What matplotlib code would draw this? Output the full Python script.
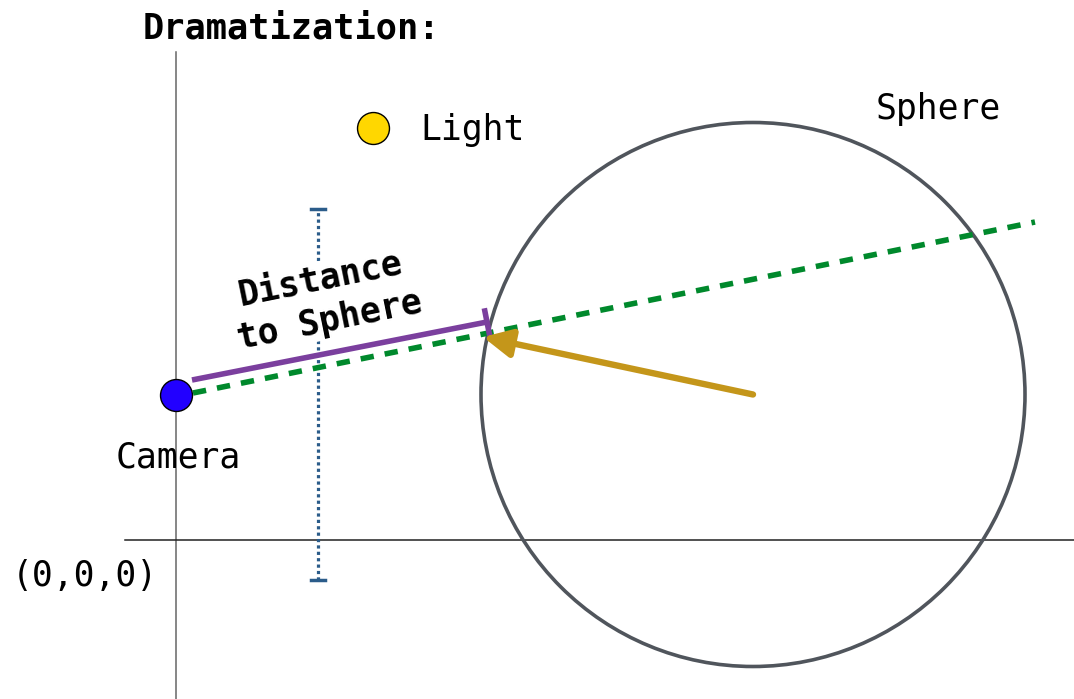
import numpy as np
import matplotlib.pyplot as plt
from matplotlib.patches import Circle, FancyArrowPatch

# world coordinates (1 unit ~ 100 px), origin at (0,0,0)
camera = (0.0, 1.45)
light = (1.97, 4.12)
sphere_center = (5.77, 1.455)
sphere_radius = 2.72
ray_x = [0.17, 8.59]
ray_y = [1.47, 3.18]
dist_x = [0.16, 3.11]
dist_y = [1.60, 2.18]
hit_point = (3.07, 2.03)
screen_x = 1.42
screen_y = [-0.40, 3.31]
x_axis = ([-0.51, 8.98], [0.0, 0.0])
y_axis = ([0.0, 0.0], [-1.59, 4.88])

fig = plt.figure(figsize=(10.74, 6.99), dpi=100)
ax = fig.add_axes([0, 0, 1, 1])
ax.set_xlim(-1.76, 8.98)
ax.set_ylim(-1.59, 5.40)
ax.set_aspect('equal')
ax.axis('off')

mono = 'DejaVu Sans Mono'

# axes
ax.plot(*y_axis, color='#666666', lw=1.1, zorder=1)
ax.plot(*x_axis, color='#222222', lw=1.1, zorder=1)

# screen (dotted with caps)
ax.plot([screen_x, screen_x], screen_y, color='#2b5c8a', lw=2.3,
        linestyle=(0, (1, 1)), zorder=2)
for yy in screen_y:
    ax.plot([screen_x - 0.07, screen_x + 0.07], [yy, yy], color='#2b5c8a',
            lw=2.5, zorder=2)

# sphere
ax.add_patch(Circle(sphere_center, sphere_radius, fill=False,
                    edgecolor='#50555c', lw=2.6, zorder=3))

# ray
ax.plot(ray_x, ray_y, color='#00892c', lw=4.0, linestyle=(0, (2.4, 2.0)),
        zorder=4)

# distance line with end tick
ax.plot(dist_x, dist_y, color='#7b3f9e', lw=4.0, solid_capstyle='butt',
        zorder=5)
d = np.array([dist_x[1] - dist_x[0], dist_y[1] - dist_y[0]])
n = np.array([-d[1], d[0]]) / np.hypot(*d) * 0.14
ax.plot([dist_x[1] - n[0], dist_x[1] + n[0]],
        [dist_y[1] - n[1], dist_y[1] + n[1]], color='#7b3f9e', lw=4.0,
        solid_capstyle='butt', zorder=5)

# normal arrow
ax.add_patch(FancyArrowPatch(sphere_center, hit_point,
                             arrowstyle='-|>,head_length=0.85,head_width=0.42',
                             mutation_scale=20, color='#c4961a', lw=4.6,
                             shrinkA=0, shrinkB=0, zorder=6))

# camera and light
ax.plot(*camera, 'o', ms=23, markerfacecolor='#2200ff',
        markeredgecolor='black', markeredgewidth=1, zorder=7)
ax.plot(*light, 'o', ms=23, markerfacecolor='#ffd700',
        markeredgecolor='black', markeredgewidth=1, zorder=7)

# labels
ax.text(-0.33, 5.02, 'Dramatization:', family=mono, fontsize=25.4,
        fontweight='bold', va='baseline', ha='left')
ax.text(2.44, 4.00, 'Light', family=mono, fontsize=25, va='baseline')
ax.text(7.00, 4.21, 'Sphere', family=mono, fontsize=25, va='baseline')
ax.text(-0.60, 0.73, 'Camera', family=mono, fontsize=25, va='baseline')
ax.text(-1.64, -0.46, '(0,0,0)', family=mono, fontsize=25, va='baseline')
ax.text(1.49, 2.40, 'Distance\nto Sphere', family=mono, fontsize=25,
        fontweight='bold', rotation=11.5, ha='center', va='center',
        rotation_mode='anchor', linespacing=1.3,
        bbox=dict(facecolor='white', edgecolor='none', pad=1), zorder=3)

fig.savefig('out.png', dpi=100)
